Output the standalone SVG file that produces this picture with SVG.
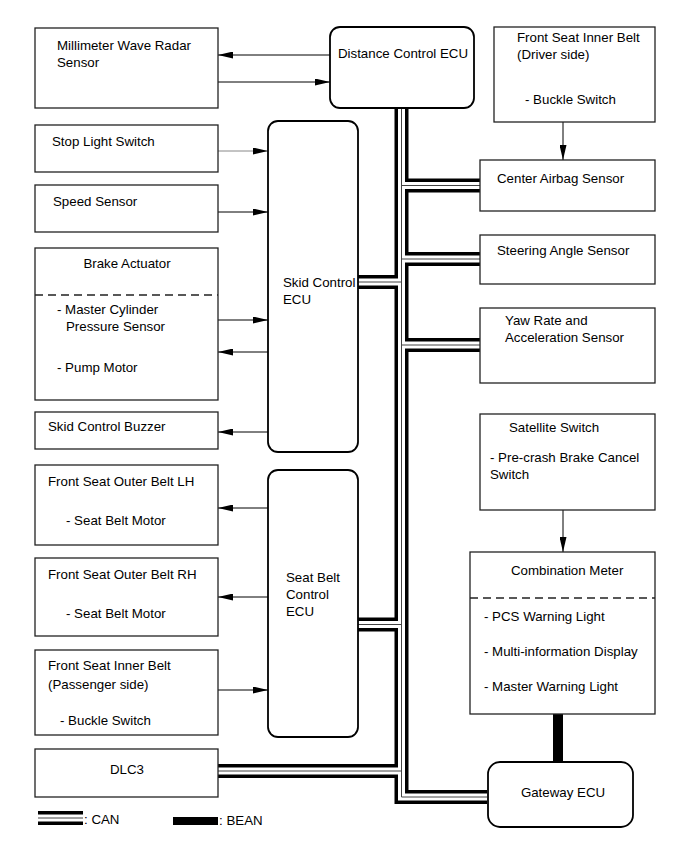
<svg xmlns="http://www.w3.org/2000/svg" width="690" height="855" viewBox="0 0 690 855">
<defs>
<marker id="ah" markerUnits="userSpaceOnUse" markerWidth="15" markerHeight="7" refX="15" refY="3.5" orient="auto">
<path d="M0,0 L15,3.5 L0,7 z" fill="#000"/>
</marker>
<style>
text{font-family:"Liberation Sans",Arial,sans-serif;font-size:13.3px;fill:#000}
.box{fill:#fff;stroke:#222;stroke-width:1.3}
.ecu{fill:#fff;stroke:#000;stroke-width:1.8}
.dash{stroke:#222;stroke-width:1.3;stroke-dasharray:8 5;fill:none}
.arr{stroke:#000;stroke-width:1;fill:none;marker-end:url(#ah)}
.c1{stroke:#000;stroke-width:14;fill:none;stroke-linejoin:miter}
.c2{stroke:#fff;stroke-width:7;fill:none;stroke-linejoin:miter}
.c3{stroke:#444;stroke-width:1;fill:none}
.bean{stroke:#000;stroke-width:10;fill:none}
.mid{text-anchor:middle}
</style>
</defs>
<rect width="690" height="855" fill="#fff"/>

<g id="connectors">
<g id="can-black">
<path class="c1" d="M401.5,108 V797 H487"/>
<path class="c1" d="M401.5,185.5 H480"/>
<path class="c1" d="M401.5,259 H480"/>
<path class="c1" d="M401.5,345 H480"/>
<path class="c1" d="M358,282 H401.5"/>
<path class="c1" d="M358,624.5 H401.5"/>
<path class="c1" d="M218,771 H401.5"/>
</g>
<g id="can-white">
<path class="c2" d="M401.5,108 V797 H487"/>
<path class="c2" d="M401.5,185.5 H480"/>
<path class="c2" d="M401.5,259 H480"/>
<path class="c2" d="M401.5,345 H480"/>
<path class="c2" d="M358,282 H401.5"/>
<path class="c2" d="M358,624.5 H401.5"/>
<path class="c2" d="M218,771 H401.5"/>
</g>
<g id="can-center">
<path class="c3" d="M401.5,108 V797 H487"/>
<path class="c3" d="M401.5,185.5 H480"/>
<path class="c3" d="M401.5,259 H480"/>
<path class="c3" d="M401.5,345 H480"/>
<path class="c3" d="M358,282 H401.5"/>
<path class="c3" d="M358,624.5 H401.5"/>
<path class="c3" d="M218,771 H401.5"/>
</g>
<path class="bean" d="M558,714 V762"/>
<path class="arr" d="M330,55 H218"/>
<path class="arr" d="M218,82 H330"/>
<path class="arr" d="M218,151 H268" style="stroke:#888"/>
<path class="arr" d="M218,212 H268"/>
<path class="arr" d="M218,320 H268"/>
<path class="arr" d="M268,352 H218"/>
<path class="arr" d="M268,432 H218"/>
<path class="arr" d="M268,508 H218"/>
<path class="arr" d="M268,597 H218"/>
<path class="arr" d="M218,690 H268"/>
<path class="arr" d="M563,122 V160"/>
<path class="arr" d="M563,510 V552"/>
</g>

<g id="radar">
<rect class="box" x="35" y="28" width="183" height="80"/>
<text x="57" y="50">Millimeter Wave Radar</text>
<text x="57" y="67">Sensor</text>
</g>
<g id="distance-ecu">
<rect class="ecu" x="330" y="27" width="144" height="81" rx="10"/>
<text class="mid" x="403" y="58">Distance Control ECU</text>
</g>
<g id="driver-belt">
<rect class="box" x="494" y="27" width="161" height="95"/>
<text x="517" y="42">Front Seat Inner Belt</text>
<text x="517" y="59">(Driver side)</text>
<text x="525" y="104">- Buckle Switch</text>
</g>
<g id="stop-light">
<rect class="box" x="35" y="125" width="183" height="47"/>
<text x="52" y="146">Stop Light Switch</text>
</g>
<g id="speed-sensor">
<rect class="box" x="35" y="185" width="183" height="47"/>
<text x="53" y="206">Speed Sensor</text>
</g>
<g id="brake-actuator">
<rect class="box" x="35" y="248" width="183" height="152"/>
<text class="mid" x="127" y="268">Brake Actuator</text>
<path class="dash" d="M35,295 H218"/>
<text x="57" y="314">- Master Cylinder</text>
<text x="66" y="331">Pressure Sensor</text>
<text x="57" y="372">- Pump Motor</text>
</g>
<g id="skid-buzzer">
<rect class="box" x="35" y="412" width="183" height="37"/>
<text x="48" y="431">Skid Control Buzzer</text>
</g>
<g id="skid-ecu">
<rect class="ecu" x="268" y="121" width="90" height="331" rx="10"/>
<text x="283" y="287">Skid Control</text>
<text x="283" y="304">ECU</text>
</g>
<g id="outer-belt-lh">
<rect class="box" x="35" y="465" width="183" height="80"/>
<text x="48" y="486">Front Seat Outer Belt LH</text>
<text x="66" y="525">- Seat Belt Motor</text>
</g>
<g id="outer-belt-rh">
<rect class="box" x="35" y="558" width="183" height="78"/>
<text x="48" y="579">Front Seat Outer Belt RH</text>
<text x="66" y="618">- Seat Belt Motor</text>
</g>
<g id="passenger-belt">
<rect class="box" x="35" y="650" width="183" height="85"/>
<text x="48" y="670">Front Seat Inner Belt</text>
<text x="48" y="689">(Passenger side)</text>
<text x="60" y="725">- Buckle Switch</text>
</g>
<g id="seatbelt-ecu">
<rect class="ecu" x="268" y="470" width="90" height="267" rx="10"/>
<text x="286" y="582">Seat Belt</text>
<text x="286" y="599">Control</text>
<text x="286" y="616">ECU</text>
</g>
<g id="dlc3">
<rect class="box" x="35" y="749" width="183" height="48"/>
<text class="mid" x="127" y="774">DLC3</text>
</g>
<g id="center-airbag">
<rect class="box" x="480" y="160" width="175" height="51"/>
<text x="497" y="183">Center Airbag Sensor</text>
</g>
<g id="steering">
<rect class="box" x="480" y="235" width="175" height="49"/>
<text x="497" y="255">Steering Angle Sensor</text>
</g>
<g id="yaw-rate">
<rect class="box" x="480" y="308" width="175" height="75"/>
<text x="505" y="325">Yaw Rate and</text>
<text x="505" y="342">Acceleration Sensor</text>
</g>
<g id="satellite">
<rect class="box" x="480" y="414" width="175" height="96"/>
<text x="509" y="432">Satellite Switch</text>
<text x="490" y="462">- Pre-crash Brake Cancel</text>
<text x="490" y="479">Switch</text>
</g>
<g id="combination-meter">
<rect class="box" x="470" y="552" width="185" height="162"/>
<text x="511" y="575">Combination Meter</text>
<path class="dash" d="M470,598 H655"/>
<text x="484" y="621">- PCS Warning Light</text>
<text x="484" y="656">- Multi-information Display</text>
<text x="484" y="691">- Master Warning Light</text>
</g>
<g id="gateway-ecu">
<rect class="ecu" x="488" y="762" width="145" height="65" rx="12"/>
<text class="mid" x="563" y="797">Gateway ECU</text>
</g>

<g id="legend">
<path class="c1" d="M38,818 H83"/>
<path class="c2" d="M38,818 H83"/>
<path class="c3" d="M38,818 H83"/>
<text x="84" y="824">: CAN</text>
<path class="bean" d="M173,821 H218" style="stroke-width:8"/>
<text x="219" y="825">: BEAN</text>
</g>
</svg>
